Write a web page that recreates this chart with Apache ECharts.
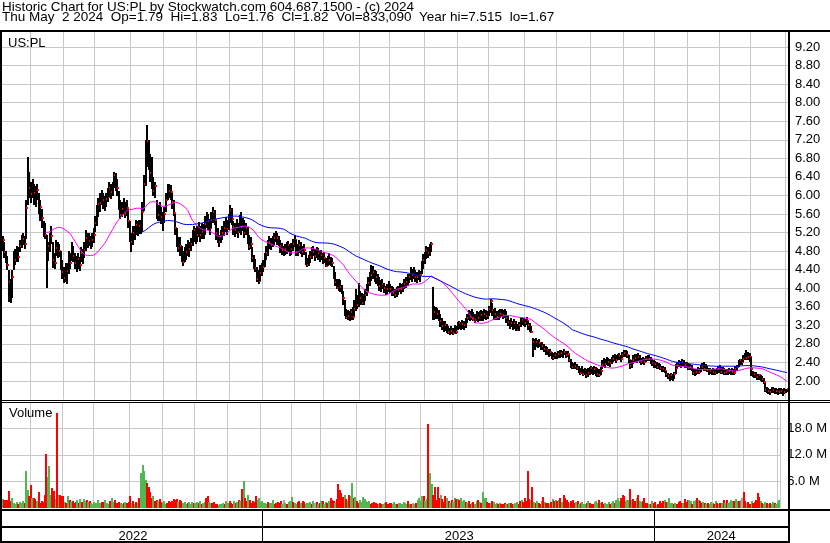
<!DOCTYPE html>
<html>
<head>
<meta charset="utf-8">
<title>Historic Chart for US:PL</title>
<script src="https://cdn.jsdelivr.net/npm/echarts@6/dist/echarts.min.js"></script>
<style>
  html, body { margin: 0; padding: 0; background: #fff; }
  #chart { width: 830px; height: 543px; }
</style>
</head>
<body>
<div id="chart"></div>
<script>
// months on the chart and the number of sessions in each
const months = ['2022-05', '2022-06', '2022-07', '2022-08', '2022-09', '2022-10', '2022-11', '2022-12',
  '2023-01', '2023-02', '2023-03', '2023-04', '2023-05', '2023-06', '2023-07', '2023-08', '2023-09',
  '2023-10', '2023-11', '2023-12', '2024-01', '2024-02', '2024-03', '2024-04', '2024-05'];
const monthDays = [18, 21, 20, 23, 21, 21, 21, 21, 20, 19, 23, 19, 22, 21, 20, 23, 20, 22, 21, 20, 21, 20, 20, 22, 2];

// daily close / high / low, in cents
const closes = [
  504,478,468,450,413,383,424,458,460,472, 468,490,500,506,496,574,648,615,603,619,
  605,599,612,581,575,552,525,515,470,490, 508,512,460,455,487,475,480,450,435,422,
  440,438,467,455,487,470,455,450,462,450, 475,468,482,508,500,502,495,505,515,540,
  560,581,583,600,590,578,592,597,615,608, 620,643,630,617,584,558,570,575,560,572,
  545,515,500,520,519,537,528,535,525,565, 625,690,717,680,648,630,610,620,570,558,
  562,554,543,560,590,615,610,608,585,562, 530,500,487,490,470,456,470,478,490,485,
  495,508,525,510,515,530,515,522,519,538, 555,545,530,548,564,547,520,508,500,512,
  519,530,540,528,545,569,550,532,525,535, 522,540,532,545,520,530,508,489,495,465,
  450,443,420,415,432,440,445,462,476,493, 500,493,500,508,515,508,500,490,482,475,
  485,485,493,478,485,495,505,478,480,493, 485,478,482,460,450,462,467,475,478,470,
  475,475,467,472,460,465,448,458,460,450, 455,430,413,400,410,402,392,380,349,336,
  340,336,349,338,356,370,364,390,380,368, 375,385,395,411,420,428,435,428,425,415,
  405,402,410,400,392,398,405,398,392,390, 385,390,396,405,398,402,410,413,420,424,
  435,428,435,424,424,431,428,445,460,467, 482,475,487,495,340,348,352,345,338,330,
  318,316,320,310,306,303,308,304,310,306, 318,325,320,322,320,328,335,342,338,345,
  335,331,340,335,338,342,338,345,340,342, 355,372,352,342,345,338,340,345,349,343,
  348,335,327,320,326,316,324,318,310,320, 325,331,328,325,330,320,314,306,284,280,
  284,278,282,271,276,270,262,266,260,262, 255,250,255,252,258,255,260,258,262,256,
  258,245,235,230,228,232,228,222,218,224, 215,220,213,218,225,228,220,225,220,215,
  213,222,235,241,236,245,240,238,244,248, 250,245,252,254,248,256,260,262,255,245,
  232,238,245,250,248,252,246,241,245,242, 248,252,248,244,238,235,236,230,232,228,
  224,226,221,215,210,206,212,208,215,228, 234,238,236,241,238,235,234,228,230,226,
  218,217,220,224,220,226,230,225,228,224, 219,222,218,220,217,222,225,227,220,223,
  218,220,217,222,218,220,218,225,230,238, 245,241,248,256,249,252,252,225,213,215,
  212,209,212,208,204,198,180,176,179,176, 178,180,176,178,175,177,179,174,176,179,
  182
];
const highs = [
  512,500,480,470,440,420,440,480,485,490, 488,505,515,520,512,590,683,650,630,635,
  625,620,625,605,590,570,545,540,515,500, 520,534,500,475,505,500,495,480,460,445,
  455,455,480,475,500,490,475,470,475,468, 488,485,500,525,520,518,512,520,530,555,
  580,595,605,612,605,598,605,615,628,625, 630,650,648,635,610,590,585,595,585,590,
  570,545,520,535,535,548,545,548,548,585, 643,720,751,720,690,683,640,630,590,580,
  585,575,565,575,605,625,625,622,605,590, 560,530,510,510,490,480,488,495,505,500,
  508,525,535,530,535,543,535,540,538,555, 564,560,550,565,575,568,545,530,515,525,
  535,545,553,548,560,579,572,545,540,550, 540,558,564,552,548,540,532,515,510,488,
  472,462,445,440,450,455,460,475,490,505, 512,508,512,520,523,520,512,505,498,490,
  495,500,502,495,498,506,515,505,495,505, 500,492,495,478,465,472,480,488,490,485,
  488,487,480,482,475,478,465,470,475,468, 465,448,435,420,420,418,408,395,375,355,
  352,350,355,360,375,398,385,412,395,390, 388,398,410,425,435,450,448,440,438,430,
  425,418,420,412,405,410,415,410,405,402, 398,402,405,412,410,412,420,425,430,430,
  445,442,446,440,435,440,438,458,473,478, 490,488,495,500,402,362,360,358,352,345,
  335,330,330,322,318,315,318,314,320,318, 328,330,328,332,330,336,345,352,350,355,
  348,345,350,348,350,353,350,355,352,350, 362,376,368,355,358,350,352,355,356,353,
  356,350,340,332,336,330,333,330,322,328, 335,338,336,334,338,330,325,318,293,290,
  292,288,290,282,285,280,275,274,270,270, 263,260,262,260,265,266,267,265,268,265,
  264,256,248,240,238,240,236,232,228,232, 226,228,225,228,230,232,230,232,230,228,
  225,230,245,250,248,252,250,248,252,256, 258,255,258,260,256,262,266,267,264,255,
  245,246,255,258,258,260,255,250,252,250, 254,256,255,252,248,245,244,240,238,236,
  232,232,230,222,218,215,218,216,220,236, 240,245,244,248,246,242,240,238,236,234,
  228,225,226,230,228,234,238,240,236,232, 228,228,226,228,225,228,232,235,230,230,
  228,226,225,228,226,228,225,232,235,245, 248,248,256,260,267,262,260,252,222,220,
  220,216,216,214,210,206,195,186,185,183, 186,188,184,185,182,184,185,182,184,182,
  183
];
const lows = [
  480,466,455,440,370,368,380,440,450,455, 455,480,488,495,485,505,580,595,585,595,
  580,575,590,560,545,530,510,505,400,460, 480,495,445,440,470,465,468,440,420,410,
  415,410,430,440,460,455,440,435,440,438, 455,452,465,480,488,490,485,490,498,520,
  535,555,565,580,570,565,575,585,595,592, 600,615,610,598,570,550,552,560,550,555,
  530,500,478,495,505,515,512,518,518,520, 565,620,660,655,630,615,600,595,550,545,
  545,538,525,540,565,590,595,590,570,555, 515,490,478,470,455,448,455,460,470,468,
  480,490,500,495,500,510,500,505,505,515, 530,525,515,530,540,535,505,498,490,498,
  505,512,520,515,525,540,535,515,510,518, 508,520,515,525,510,515,495,482,484,455,
  442,435,413,410,415,428,435,445,460,470, 485,482,488,495,500,495,490,478,472,468,
  472,475,478,470,473,480,490,470,470,478, 475,468,472,450,446,448,455,462,468,460,
  465,462,456,460,452,455,445,448,450,448, 445,420,405,398,395,392,388,365,340,334,
  330,328,332,333,340,350,355,360,365,364, 365,372,385,395,405,415,420,415,410,405,
  395,392,398,390,385,388,392,390,383,382, 378,380,385,392,388,392,398,402,405,410,
  418,415,420,415,412,418,415,430,440,452, 462,465,470,478,331,332,335,335,328,318,
  310,306,308,302,300,299,300,298,302,300, 310,312,310,312,310,315,325,330,328,332,
  328,325,328,326,328,330,328,333,330,332, 340,345,340,332,333,330,330,335,338,333,
  336,325,318,313,316,310,312,308,306,308, 316,320,318,316,320,310,305,302,252,266,
  272,270,272,266,268,262,255,256,253,254, 248,245,247,246,250,248,252,250,254,250,
  250,240,228,224,224,225,222,216,212,215, 210,212,205,208,212,215,212,214,210,208,
  208,212,225,230,228,235,232,230,236,240, 242,238,244,245,240,248,250,252,248,238,
  225,228,236,240,238,242,238,235,237,235, 240,243,241,236,232,228,228,225,224,222,
  218,218,216,208,204,200,202,200,205,215, 228,230,228,232,230,228,226,222,222,220,
  212,210,212,215,214,218,222,220,220,218, 213,214,212,213,212,214,217,218,214,215,
  212,213,211,214,212,213,212,218,222,230, 234,235,240,245,246,244,240,210,208,207,
  206,204,203,202,198,194,175,172,173,170, 172,174,170,172,168,170,172,167,170,174,
  176
];
// daily volume, millions of shares
const volumes = [
  2.1,1.8,1.7,1.9,3.9,1.5,2.3,1.2,1.0,1.3, 1.0,1.3,1.2,1.5,1.1,8.3,4.1,2.8,5.3,2.3,
  2.2,2.0,1.6,3.6,1.2,1.5,1.4,2.9,12.3,7.1, 9.4,3.0,4.5,3.8,2.0,21.4,3.0,3.0,2.6,2.6,
  1.4,1.2,2.6,1.7,1.4,1.6,1.2,1.4,1.7,1.2, 2.0,1.4,2.1,1.6,1.7,1.3,1.5,1.2,1.0,1.3,
  1.2,1.7,1.1,1.2,1.4,1.3,1.7,1.2,1.0,1.5, 2.3,1.3,1.7,1.2,1.2,1.3,1.1,1.0,1.1,1.3,
  1.2,1.4,2.6,1.2,1.5,1.0,1.3,1.1,2.3,8.0, 9.8,8.4,6.4,5.6,4.8,3.6,2.3,2.6,1.5,1.7,
  1.5,2.0,1.4,1.2,1.5,1.0,1.2,1.5,1.3,1.5, 2.0,1.8,2.0,1.4,1.9,1.5,1.1,1.3,1.0,1.2,
  1.4,1.0,1.3,1.2,1.1,1.3,1.2,1.5,1.0,1.2, 1.4,2.3,2.6,1.4,1.2,1.1,1.3,1.0,0.8,0.7,
  0.8,0.9,1.2,1.0,1.5,1.1,1.5,1.1,0.9,1.5, 1.1,1.3,1.9,1.6,4.2,6.2,2.3,1.5,2.9,1.7,
  1.2,1.5,1.3,2.8,1.7,2.2,1.3,1.5,1.2,1.1, 1.0,1.3,1.2,1.1,1.7,1.0,1.2,1.3,1.2,1.5,
  1.0,1.8,1.2,1.0,1.4,1.6,2.4,1.4,1.1,1.0, 1.3,1.5,1.2,1.6,1.4,1.0,1.2,1.1,1.3,1.0,
  1.5,1.2,1.4,0.9,1.2,1.6,1.5,1.0,1.3,1.2, 1.5,2.2,1.8,1.5,1.2,2.0,5.5,4.0,3.4,2.5,
  3.0,2.0,1.6,3.0,2.6,5.6,2.2,2.4,1.5,1.2, 1.8,1.4,2.5,2.0,1.6,1.3,1.5,1.0,1.2,1.4,
  1.1,1.0,0.9,1.2,0.8,1.0,1.1,1.3,0.9,1.2, 1.1,1.0,1.3,1.0,0.8,1.2,1.1,1.0,1.3,1.2,
  1.0,1.5,0.9,0.8,1.2,1.0,1.1,1.8,2.2,1.5, 2.6,2.8,1.6,2.0,19.0,7.9,5.4,2.9,4.8,1.7,
  4.8,2.3,2.9,2.0,1.4,2.7,2.3,1.5,1.1,1.8, 1.4,2.3,2.1,2.0,1.8,2.3,1.5,1.8,1.4,1.2,
  1.5,0.9,1.1,1.3,1.0,1.5,1.9,1.4,1.2,3.6, 2.3,2.3,1.4,1.2,1.1,1.5,1.3,1.0,1.2,0.9,
  1.1,1.0,0.8,1.2,1.0,0.9,1.1,1.2,0.8,1.0, 1.1,1.3,1.0,1.5,1.9,1.4,2.2,1.5,8.4,2.0,
  1.8,4.8,1.3,1.2,1.5,1.2,1.0,1.6,2.4,1.3, 1.1,1.2,1.0,1.4,2.0,1.5,1.7,1.6,1.7,2.2,
  1.3,3.0,2.2,1.8,1.4,1.1,1.5,1.9,1.2,1.3, 1.5,1.0,1.2,1.4,1.0,0.9,1.2,1.5,1.1,0.8,
  1.0,1.3,1.5,1.2,1.7,1.1,1.4,0.8,1.2,1.0, 1.3,0.9,1.1,1.5,1.2,1.9,2.2,1.5,2.2,3.0,
  2.8,1.5,1.9,1.7,4.2,1.9,2.0,1.5,2.3,3.0, 1.6,1.4,1.5,2.3,1.1,1.2,0.8,0.9,1.5,1.1,
  1.3,0.7,1.0,1.5,1.2,1.6,1.8,1.3,1.4,2.3, 1.1,1.2,1.0,1.1,1.0,1.3,1.5,1.2,1.1,2.0,
  1.3,1.8,1.7,1.6,1.0,1.6,1.8,2.2,1.9,1.5, 1.2,1.3,1.1,0.9,1.2,1.0,1.3,1.1,0.8,1.5,
  1.2,0.9,1.1,1.2,1.7,1.1,1.9,1.2,1.4,1.8, 1.6,1.5,2.0,1.6,1.6,1.9,2.2,3.6,1.5,1.2,
  1.3,1.0,1.5,1.2,1.4,1.8,3.3,2.4,1.5,1.2, 1.0,1.3,1.1,0.9,1.2,1.0,1.4,1.1,0.9,1.3,
  1.9
];

const FONT = '"Liberation Sans", Arial, sans-serif';
const GRID_LINE = '#c8c8c8';

// build the session list plus month / year markers
const days = [];
const monthStart = new Set();
const yearStart = new Set();
const yearSpan = {};
months.forEach((m, k) => {
  const yr = m.slice(0, 4);
  for (let d = 0; d < monthDays[k]; d++) {
    const idx = days.length;
    if (d === 0 && idx > 0) monthStart.add(idx);
    if (!yearSpan[yr]) {
      yearSpan[yr] = [idx, idx];
      if (idx > 0) yearStart.add(idx);
    }
    yearSpan[yr][1] = idx;
    days.push(m + '-' + (d + 1));
  }
});
const yearMid = new Set(Object.values(yearSpan).map(s => Math.round((s[0] + s[1]) / 2)));

if (closes.length !== days.length || highs.length !== days.length ||
    lows.length !== days.length || volumes.length !== days.length) {
  throw new Error('length mismatch ' + [days.length, closes.length, highs.length, lows.length, volumes.length]);
}

function sma(n) {
  return closes.map((c, i) => {
    if (i < n - 1) return null;
    let s = 0;
    for (let k = i - n + 1; k <= i; k++) s += closes[k];
    return +(s / n / 100).toFixed(3);
  });
}

const barData = days.map((d, i) => [i, lows[i] / 100, highs[i] / 100, closes[i] / 100]);
const volData = volumes.map((v, i) => [i, v, i === 0 ? 1 : Math.sign(closes[i] - closes[i - 1])]);

// high-low stroke with a red close tick
function renderBar(params, api) {
  const i = api.value(0);
  const lo = api.coord([i, api.value(1)]);
  const hi = api.coord([i, api.value(2)]);
  const cl = api.coord([i, api.value(3)]);
  const px = Math.round(lo[0]) - 1;
  return {
    type: 'group',
    children: [
      { type: 'rect', shape: { x: px, y: Math.round(hi[1]), width: 2, height: Math.max(1, Math.round(lo[1] - hi[1])) }, style: { fill: '#000' } },
      { type: 'rect', shape: { x: px + 1, y: Math.round(cl[1]) - 1, width: 2, height: 2 }, style: { fill: '#ff0000' } }
    ]
  };
}

function renderVol(params, api) {
  const i = api.value(0);
  const top = api.coord([i, api.value(1)]);
  const base = api.coord([i, 0]);
  const dir = api.value(2);
  return {
    type: 'rect',
    shape: { x: Math.round(top[0]) - 1, y: Math.round(top[1]), width: 2, height: Math.round(base[1] - top[1]) },
    style: { fill: dir > 0 ? '#50b850' : dir < 0 ? '#ff0000' : '#a8a8a8' }
  };
}

const monthAxis = (gridIndex) => ({
  type: 'category',
  gridIndex,
  data: days,
  boundaryGap: true,
  axisLine: { show: false },
  axisTick: { show: false },
  axisLabel: { show: false },
  splitLine: { show: true, interval: (i) => monthStart.has(i), lineStyle: { color: GRID_LINE, width: 1 } }
});

const chart = echarts.init(document.getElementById('chart'), null, { renderer: 'canvas' });

const HEAD_FONT = '13.5px ' + FONT;

const option = {
  animation: false,
  backgroundColor: '#fff',
  textStyle: { fontFamily: FONT },
  grid: [
    { left: 2, top: 28.44, width: 786, height: 371.12 },
    { left: 2, top: 403, width: 786, height: 105 },
    { left: 2, top: 510, width: 786, height: 31 }
  ],
  xAxis: [
    monthAxis(0),
    monthAxis(1),
    {
      type: 'category',
      gridIndex: 2,
      data: days,
      boundaryGap: true,
      axisLine: { show: false },
      axisTick: { show: false },
      axisLabel: {
        show: true, inside: true, margin: -2,
        interval: (i) => yearMid.has(i),
        formatter: (v) => v.slice(0, 4),
        color: '#000', fontSize: 13, fontFamily: FONT
      },
      splitLine: { show: true, interval: (i) => yearStart.has(i), lineStyle: { color: '#000', width: 1 } }
    }
  ],
  yAxis: [
    {
      type: 'value', gridIndex: 0, position: 'right',
      min: 1.6, max: 9.6, interval: 0.4,
      axisLine: { show: false }, axisTick: { show: false },
      axisLabel: {
        margin: 7, color: '#000', fontSize: 13, fontFamily: FONT,
        formatter: (v) => (v < 1.9 || v > 9.3) ? '' : v.toFixed(2)
      },
      splitLine: { show: true, showMinLine: false, showMaxLine: false, lineStyle: { color: GRID_LINE, width: 1 } }
    },
    {
      type: 'value', gridIndex: 1, position: 'right',
      min: 0, max: 23.7, interval: 6,
      axisLine: { show: false }, axisTick: { show: false },
      axisLabel: {
        margin: 7, color: '#000', fontSize: 13, fontFamily: FONT,
        formatter: (v) => (v > 0 && Math.abs(v / 6 - Math.round(v / 6)) < 1e-6) ? v.toFixed(1) + ' M' : ''
      },
      splitLine: { show: true, showMinLine: false, showMaxLine: false, lineStyle: { color: GRID_LINE, width: 1 } }
    },
    {
      type: 'value', gridIndex: 2, show: false, min: 0, max: 1
    }
  ],
  series: [
    {
      name: 'price', type: 'custom', xAxisIndex: 0, yAxisIndex: 0,
      renderItem: renderBar, data: barData,
      encode: { x: 0, y: [1, 2, 3] }, z: 3
    },
    {
      name: 'ma short', type: 'line', xAxisIndex: 0, yAxisIndex: 0,
      data: sma(28), showSymbol: false, connectNulls: false,
      lineStyle: { color: '#ff00ff', width: 1 }, z: 4
    },
    {
      name: 'ma long', type: 'line', xAxisIndex: 0, yAxisIndex: 0,
      data: sma(90), showSymbol: false, connectNulls: false,
      lineStyle: { color: '#0000ff', width: 1 }, z: 4
    },
    {
      name: 'volume', type: 'custom', xAxisIndex: 1, yAxisIndex: 1,
      renderItem: renderVol, data: volData,
      encode: { x: 0, y: 1 }, z: 3
    }
  ],
  graphic: [
    { type: 'rect', z: 100, shape: { x: 0, y: 0, width: 830, height: 30 }, style: { fill: '#fff' } },
    { type: 'text', z: 101, x: 2, y: 0, style: { text: 'Historic Chart for US:PL by Stockwatch.com 604.687.1500 - (c) 2024', font: HEAD_FONT, fill: '#000', textVerticalAlign: 'top', verticalAlign: 'top' } },
    { type: 'text', z: 101, x: 2, y: 10.5, style: { text: 'Thu May  2 2024  Op=1.79  Hi=1.83  Lo=1.76  Cl=1.82  Vol=833,090  Year hi=7.515  lo=1.67', font: HEAD_FONT, fill: '#000', textVerticalAlign: 'top', verticalAlign: 'top' } },
    { type: 'text', z: 101, x: 8, y: 37, style: { text: 'US:PL', font: '13px ' + FONT, fill: '#000', textVerticalAlign: 'top', verticalAlign: 'top' } },
    { type: 'text', z: 101, x: 9, y: 407, style: { text: 'Volume', font: '13px ' + FONT, fill: '#000', textVerticalAlign: 'top', verticalAlign: 'top' } },
    // frame lines
    { type: 'rect', z: 102, shape: { x: 0, y: 30, width: 830, height: 2 }, style: { fill: '#000' } },
    { type: 'rect', z: 102, shape: { x: 0, y: 30, width: 2, height: 513 }, style: { fill: '#000' } },
    { type: 'rect', z: 102, shape: { x: 788, y: 30, width: 2, height: 513 }, style: { fill: '#000' } },
    { type: 'rect', z: 102, shape: { x: 0, y: 400, width: 830, height: 1 }, style: { fill: '#000' } },
    { type: 'rect', z: 102, shape: { x: 0, y: 402, width: 830, height: 1 }, style: { fill: '#000' } },
    { type: 'rect', z: 102, shape: { x: 0, y: 509, width: 830, height: 2 }, style: { fill: '#000' } },
    { type: 'rect', z: 102, shape: { x: 0, y: 526, width: 790, height: 2 }, style: { fill: '#000' } },
    { type: 'rect', z: 102, shape: { x: 0, y: 541, width: 790, height: 2 }, style: { fill: '#000' } }
  ]
};

chart.setOption(option);
</script>
</body>
</html>
